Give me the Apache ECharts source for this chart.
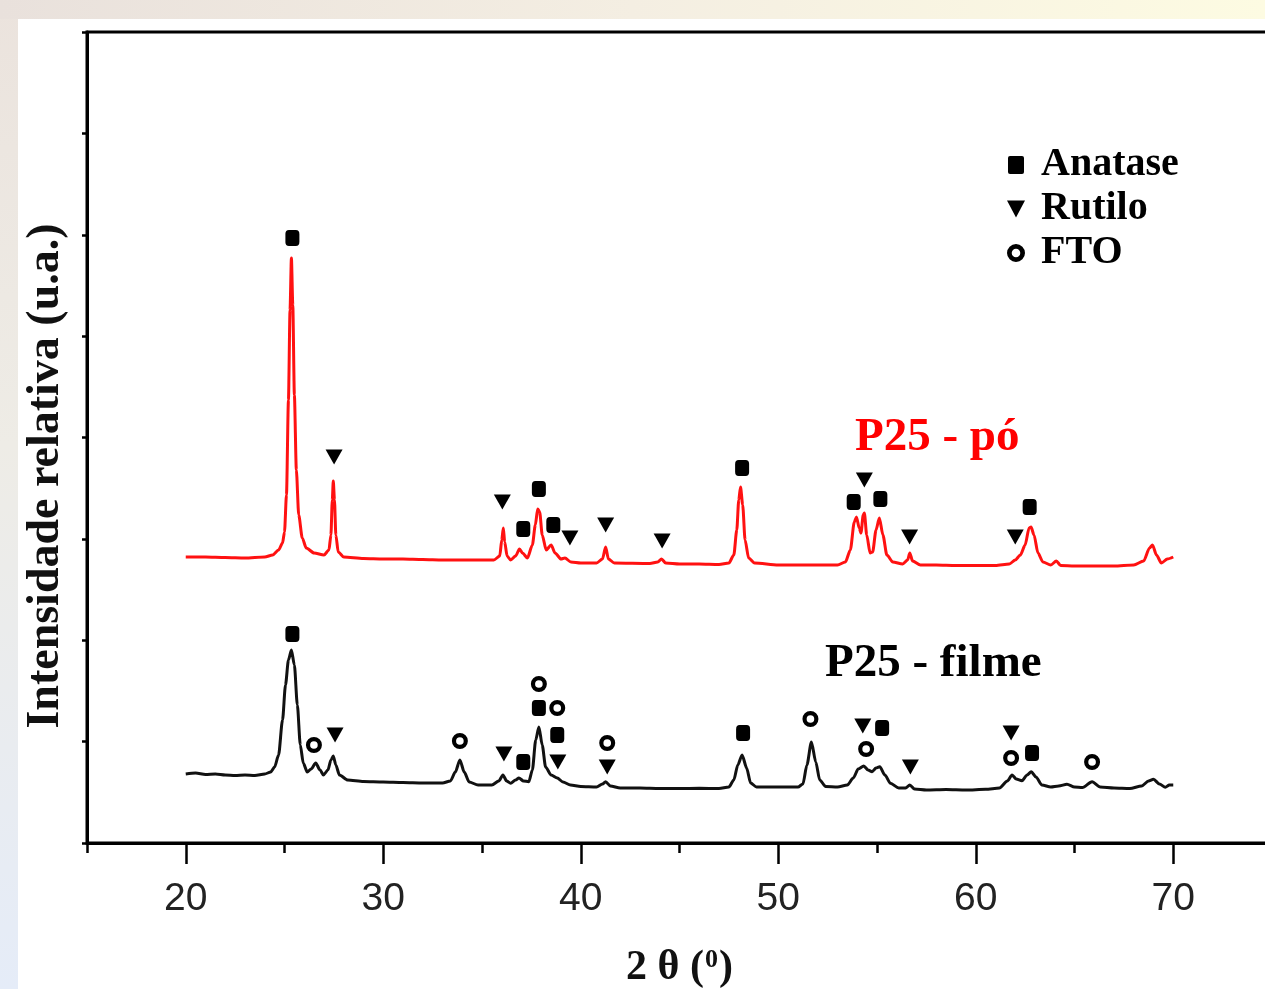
<!DOCTYPE html>
<html>
<head>
<meta charset="utf-8">
<script src="https://cdn.jsdelivr.net/npm/echarts@6/dist/echarts.min.js"></script>
<style>
html,body{margin:0;padding:0;background:#fff;}
#chart{width:1265px;height:989px;}
</style>
</head>
<body>
<div id="chart"></div>
<script>
// ---- data: [2θ (degrees), relative intensity (a.u.)] ----
const p25Po = [
 [20.0,286],[21.0,286],[22.0,285.5],[23.0,285],[24.0,286],[24.4,288],[24.7,293],[24.9,300],[25.0,311],[25.1,348],
 [25.2,443],[25.28,533],[25.35,585],[25.42,538],[25.5,448],[25.6,373],[25.72,328],[25.9,305],[26.1,295],[26.5,290],
 [27.0,288],[27.25,293],[27.35,308],[27.42,343],[27.47,362],[27.53,343],[27.6,308],[27.72,291],[28.0,286],[29.0,284.5],
 [30.0,284],[31.0,284],[32.0,283.5],[33.0,283],[34.0,283],[35.0,283],[35.6,283],[35.9,287],[36.0,303],[36.08,315],
 [36.15,301],[36.27,287],[36.45,283],[36.7,287],[36.9,294],[37.05,290],[37.3,285],[37.55,298],[37.7,318],[37.82,334],
 [37.92,331],[38.05,308],[38.25,293],[38.5,298],[38.7,290],[39.0,284],[39.2,285],[39.5,281],[40.0,280],[40.8,280],
 [41.1,284],[41.26,296],[41.4,284],[41.7,280],[43.5,279.5],[43.9,281],[44.09,284],[44.3,280],[45.0,279],[46.0,279],
 [47.0,278.5],[47.5,280],[47.75,288],[47.9,313],[48.0,343],[48.09,356],[48.2,338],[48.32,303],[48.5,285],[48.8,280],
 [50.0,278],[51.0,278],[52.0,278],[53.0,278],[53.4,281],[53.65,293],[53.85,321],[53.96,326],[54.1,315],[54.19,310],
 [54.3,328],[54.36,330],[54.48,308],[54.65,290],[54.78,291],[54.95,313],[55.12,325],[55.3,308],[55.5,288],[55.8,281],
 [56.3,279],[56.55,283],[56.66,290],[56.8,282],[57.2,278],[58.0,278],[59.0,277.5],[60.0,277.5],[61.0,277.5],[61.7,279],
 [62.0,283],[62.26,288],[62.5,298],[62.7,315],[62.8,316],[62.95,308],[63.15,290],[63.4,281],[63.8,278],[64.08,282],
 [64.3,277.5],[65.0,277],[66.0,277],[67.0,277],[68.0,278],[68.5,282],[68.8,295],[68.95,298],[69.15,288],[69.4,280],
 [69.7,284],[70.0,286]
];
const p25Filme = [
 [20.0,69],[20.5,70],[21.0,68.5],[21.5,69],[22.0,68],[22.5,67.5],[23.0,68],[23.5,67.5],[24.0,69],[24.3,71],
 [24.5,76],[24.7,88],[24.9,123],[25.05,158],[25.2,183],[25.35,193],[25.5,178],[25.65,138],[25.8,98],[25.95,80],
 [26.15,71],[26.35,74],[26.58,80],[26.8,73],[26.97,68],[27.2,73],[27.35,83],[27.47,87],[27.6,78],[27.78,68],
 [28.2,63],[29.0,61.5],[30.0,61],[31.0,60.5],[32.0,60],[33.0,60],[33.4,62],[33.65,71],[33.88,83],[34.1,71],
 [34.35,61],[34.8,58],[35.5,58],[35.85,62],[36.06,68],[36.25,62],[36.45,59.7],[36.7,63],[36.87,65],[37.1,62],
 [37.37,61.3],[37.55,73],[37.72,103],[37.88,116],[38.05,98],[38.22,76],[38.5,68],[38.81,65],[39.1,61],[39.48,58],
 [40.0,56.5],[40.8,56],[41.1,59],[41.26,61.3],[41.5,57],[42.0,55],[43.0,55],[44.0,54.5],[45.0,54.5],[46.0,54.7],
 [47.0,54.5],[47.5,56],[47.75,63],[47.95,78],[48.17,88],[48.4,75],[48.6,60],[48.9,56],[50.0,56],[51.0,56],
 [51.25,59],[51.45,78],[51.68,101],[51.9,81],[52.1,63],[52.4,56.5],[53.0,56],[53.5,58],[53.8,65],[54.05,74],
 [54.33,77],[54.55,73],[54.75,71.3],[54.95,75],[55.14,76.3],[55.4,68],[55.68,59.7],[56.1,55],[56.45,55],[56.66,58],
 [56.9,54],[57.5,53],[58.5,53.5],[59.5,53],[60.5,53.7],[61.2,55],[61.6,62],[61.84,68],[62.05,64],[62.34,62.3],
 [62.6,68],[62.81,71.3],[63.05,66],[63.35,58],[63.8,56],[64.2,57],[64.62,58.7],[65.0,56],[65.4,55.5],[65.89,61.3],
 [66.3,56],[67.0,55],[67.8,54.5],[68.4,57],[68.75,62],[69.0,63.7],[69.3,59],[69.6,55.7],[69.8,58],[70.0,58]
];
// phase markers [2θ, height]
const anatase = [
 [25.40,605],[37.09,314],[37.88,354],[38.61,318],[48.17,375],[53.82,341],[55.17,344],[62.73,336],
 [25.40,209],[37.09,81],[37.88,135],[38.81,108],[48.22,110],[55.26,115],[62.85,90]
];
const rutilo = [
 [27.51,386],[36.03,341],[39.45,305],[41.26,318],[44.12,302],[54.36,363],[56.65,306],[62.00,306],
 [27.56,108],[36.11,89],[38.84,81],[41.34,76],[54.28,117],[56.69,76],[61.79,110]
];
const fto = [
 [26.49,98],[33.88,102],[37.88,159],[38.81,135],[41.34,100],[51.63,124],[54.45,94],[61.79,85],[65.89,81]
];
const phaseNames = ['Anatase', 'Rutilo', 'FTO'];
const xMajorTicks = [20, 30, 40, 50, 60, 70];
const xMinorTicks = [15, 25, 35, 45, 55, 65, 75];
const xRange = [15, 75];
const yRange = [0, 811];
const yStep = 101.375;

const serif = '"Liberation Serif","Times New Roman",serif';
const downTriangle = 'path://M0,0 L16,0 L8,15 Z';
const ring = 'path://M8,0 A8,8 0 1,1 8,16 A8,8 0 1,1 8,0 Z M8,4.2 A3.8,3.8 0 1,0 8,11.8 A3.8,3.8 0 1,0 8,4.2 Z';
const chart = echarts.init(document.getElementById('chart'));

const option = {
  animation: false,
  backgroundColor: 'transparent',
  graphic: [
    { type: 'rect', z: -30, silent: true, shape: { x: 0, y: 0, width: 1265, height: 989 },
      style: { fill: new echarts.graphic.LinearGradient(0, 0, 0, 1, [
        { offset: 0, color: '#ebe3dd' }, { offset: 0.45, color: '#eeece6' }, { offset: 1, color: '#e5ecf8' }]) } },
    { type: 'rect', z: -29, silent: true, shape: { x: 0, y: 0, width: 1265, height: 19 },
      style: { fill: new echarts.graphic.LinearGradient(0, 0, 1, 0, [
        { offset: 0, color: '#e9e1dc' }, { offset: 0.5, color: '#f4eee2' }, { offset: 1, color: '#fdfbe2' }]) } },
    { type: 'rect', z: -28, silent: true, shape: { x: 18, y: 19, width: 1247, height: 970 },
      style: { fill: '#ffffff' } },
    { type: 'text', z: 10, x: 855, y: 438,
      style: { text: 'P25 - pó', font: 'bold 47px ' + serif, fill: '#ff0000', textAlign: 'left', textVerticalAlign: 'middle' } },
    { type: 'text', z: 10, x: 825, y: 664,
      style: { text: 'P25 - filme', font: 'bold 47px ' + serif, fill: '#000000', textAlign: 'left', textVerticalAlign: 'middle' } }
  ],
  grid: {
    left: 87, top: 32, right: -7, bottom: 146,
    outerBoundsMode: 'none',
    show: true, backgroundColor: '#ffffff', borderColor: '#000', borderWidth: 3
  },
  legend: {
    data: [
      { name: phaseNames[0], icon: 'path://M2,0 L14,0 Q16,0 16,2 L16,16 Q16,18 14,18 L2,18 Q0,18 0,16 L0,2 Q0,0 2,0 Z' },
      { name: phaseNames[1], icon: downTriangle },
      { name: phaseNames[2], icon: ring }
    ],
    orient: 'vertical', left: 1007, top: 145,
    itemWidth: 18, itemHeight: 18, itemGap: 4, padding: 0,
    selectedMode: false,
    itemStyle: { color: '#000', borderWidth: 0, opacity: 1 },
    textStyle: { fontFamily: serif, fontWeight: 'bold', fontSize: 40, color: '#000', lineHeight: 40, padding: [0, 0, 0, 11] }
  },
  xAxis: [
    {
      type: 'value', position: 'bottom', min: xRange[0], max: xRange[1],
      name: '{a|2 θ (}{s|0}{a|)}', nameLocation: 'middle', nameGap: 104,
      nameTextStyle: { rich: {
        a: { fontFamily: serif, fontWeight: 'bold', fontSize: 42, color: '#111' },
        s: { fontFamily: serif, fontWeight: 'bold', fontSize: 26, color: '#111', verticalAlign: 'top', padding: [0, 1, 14, 1] }
      } },
      axisLine: { show: true, onZero: false, lineStyle: { color: '#000', width: 3 } },
      axisTick: { show: true, customValues: xMajorTicks, inside: false, length: 21, lineStyle: { color: '#000', width: 2.5 } },
      axisLabel: { show: true, customValues: xMajorTicks, margin: 37, fontSize: 39, color: '#222',
        fontFamily: '"Liberation Sans Narrow","Liberation Sans",Arial,sans-serif' },
      splitLine: { show: false }
    },
    {
      type: 'value', position: 'bottom', min: xRange[0], max: xRange[1],
      axisLine: { show: false },
      axisTick: { show: true, customValues: xMinorTicks, inside: false, length: 10, lineStyle: { color: '#000', width: 2.5 } },
      axisLabel: { show: false },
      splitLine: { show: false }
    }
  ],
  yAxis: {
    type: 'value', min: yRange[0], max: yRange[1], interval: yStep,
    name: 'Intensidade relativa (u.a.)', nameLocation: 'middle', nameRotate: 90, nameGap: 18,
    nameTextStyle: { fontFamily: serif, fontWeight: 'bold', fontSize: 46, color: '#111', padding: [0, 77, 0, 0] },
    axisLine: { show: true, onZero: false, lineStyle: { color: '#000', width: 3 } },
    axisTick: { show: true, inside: false, length: 5, lineStyle: { color: '#000', width: 2.5 } },
    axisLabel: { show: false },
    splitLine: { show: false }
  },
  series: [
    { name: 'P25 - pó', type: 'line', data: p25Po, showSymbol: false, smooth: 0.25, smoothMonotone: 'x',
      lineStyle: { color: '#ff1111', width: 3 }, itemStyle: { color: '#ff1111' }, z: 3 },
    { name: 'P25 - filme', type: 'line', data: p25Filme, showSymbol: false, smooth: 0.25, smoothMonotone: 'x',
      lineStyle: { color: '#111111', width: 3 }, itemStyle: { color: '#111111' }, z: 3 },
    { name: phaseNames[0], type: 'scatter', data: anatase, symbol: 'roundRect', symbolSize: [14, 16],
      itemStyle: { color: '#000', opacity: 1 }, z: 4 },
    { name: phaseNames[1], type: 'scatter', data: rutilo, symbol: 'triangle', symbolRotate: 180, symbolSize: [17, 15],
      itemStyle: { color: '#000', opacity: 1 }, z: 4 },
    { name: phaseNames[2], type: 'scatter', data: fto, symbol: ring, symbolSize: [16, 16],
      itemStyle: { color: '#000', opacity: 1 }, z: 4 }
  ]
};
chart.setOption(option);
</script>
</body>
</html>
